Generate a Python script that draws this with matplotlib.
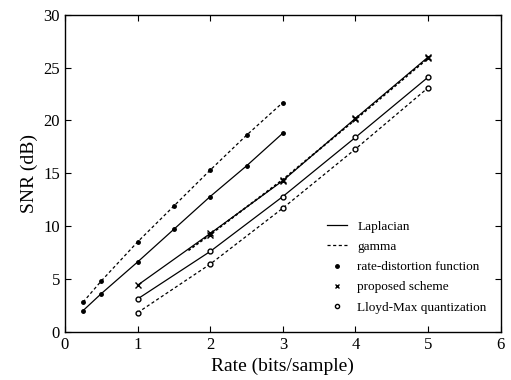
"""SNR versus rate for Laplacian and gamma sources."""

import matplotlib

matplotlib.use("Agg")
import matplotlib.pyplot as plt
from matplotlib.lines import Line2D

# rate-distortion function
rd_rate = [0.25, 0.5, 1.0, 1.5, 2.0, 2.5, 3.0]
rd_laplacian = [2.0, 3.6, 6.6, 9.7, 12.8, 15.7, 18.8]
rd_gamma = [2.8, 4.8, 8.5, 11.9, 15.3, 18.6, 21.7]

# proposed scheme
prop_rate = [1, 2, 3, 4, 5]
prop_laplacian = [4.4, 9.3, 14.3, 20.2, 26.0]
prop_gamma_rate = [1.7, 2, 3, 4, 5]
prop_gamma = [7.7, 9.2, 14.4, 20.1, 25.9]

# Lloyd-Max quantization
lm_rate = [1, 2, 3, 4, 5]
lm_laplacian = [3.1, 7.6, 12.8, 18.4, 24.1]
lm_gamma = [1.8, 6.4, 11.7, 17.3, 23.1]

plt.rcParams["font.family"] = ["Liberation Serif", "DejaVu Serif"]

fig = plt.figure(figsize=(5.11, 3.80), dpi=100)
ax = fig.add_axes([0.127, 0.127, 0.853, 0.834])

lw = 0.9
ax.plot(rd_rate, rd_laplacian, "k-", lw=lw, marker="o", ms=2.5)
ax.plot(rd_rate, rd_gamma, "k--", lw=lw, marker="o", ms=2.5, dashes=(2.5, 2))
ax.plot(prop_rate, prop_laplacian, "k-", lw=lw, marker="x", ms=4, mew=1)
ax.plot(prop_gamma_rate, prop_gamma, "k--", lw=1.3, dashes=(1.5, 1.2))
ax.plot(prop_rate[1:], prop_gamma[1:], "k", lw=0, marker="x", ms=4, mew=1)
ax.plot(lm_rate, lm_laplacian, "k-", lw=lw, marker="o", ms=3.5,
        mfc="white", mew=1)
ax.plot(lm_rate, lm_gamma, "k--", lw=lw, marker="o", ms=3.5, mfc="white",
        mew=1, dashes=(2.5, 2))

ax.set_xlim(0, 6)
ax.set_ylim(0, 30)
ax.set_xticks(range(0, 7))
ax.set_yticks(range(0, 31, 5))
ax.tick_params(direction="in", top=True, right=True, labelsize=12,
               length=4, width=0.8)
for side in ax.spines.values():
    side.set_linewidth(1.0)
ax.set_xlabel("Rate (bits/sample)", fontsize=14)
ax.set_ylabel("SNR (dB)", fontsize=14)

handles = [
    Line2D([], [], color="k", lw=lw),
    Line2D([], [], color="k", lw=lw, ls="--", dashes=(2.5, 2)),
    Line2D([], [], color="k", lw=0, marker="o", ms=2.5),
    Line2D([], [], color="k", lw=0, marker="x", ms=3.5),
    Line2D([], [], color="k", lw=0, marker="o", ms=3, mfc="white"),
]
labels = ["Laplacian", "gamma", "rate-distortion function",
          "proposed scheme", "Lloyd-Max quantization"]
ax.legend(handles, labels, loc="lower right", bbox_to_anchor=(0.995, 0.02),
          frameon=False, fontsize=9.5, handlelength=1.5, labelspacing=0.6)

fig.savefig("out.png", dpi=100)
